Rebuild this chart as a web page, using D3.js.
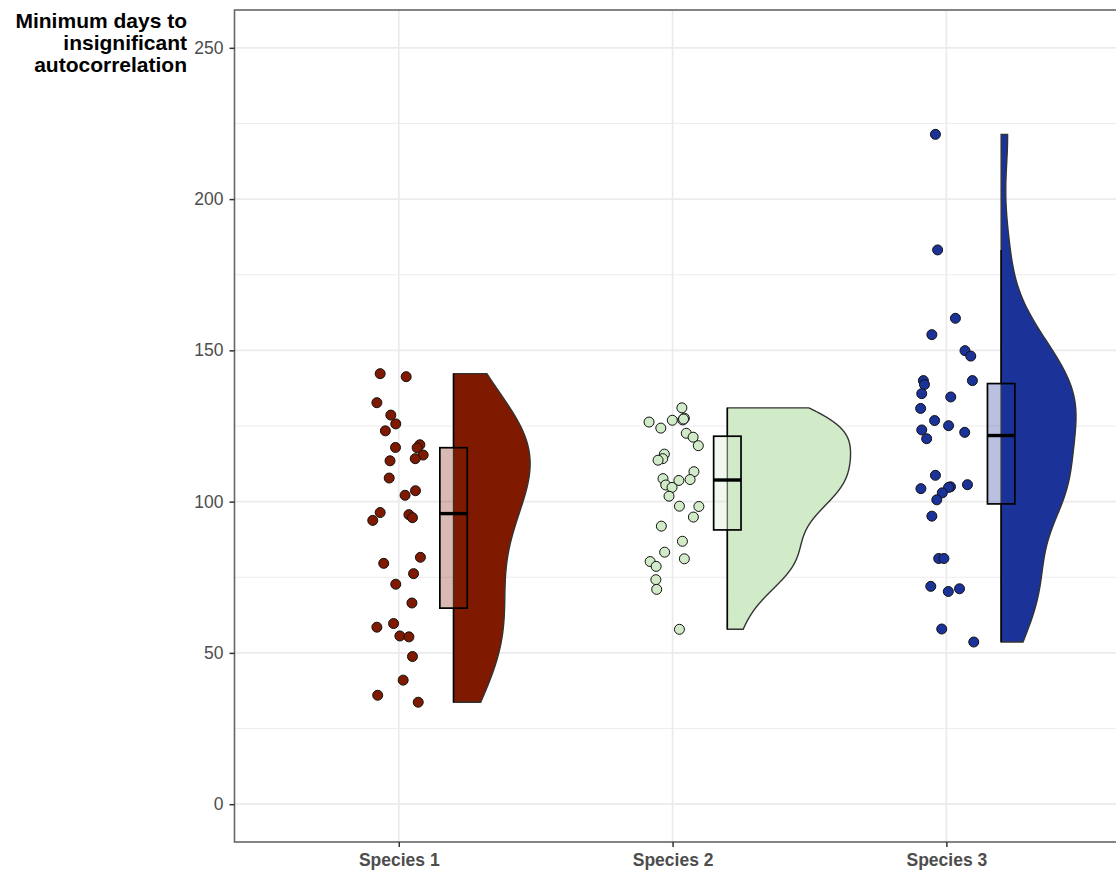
<!DOCTYPE html>
<html>
<head>
<meta charset="utf-8">
<script src="https://cdn.jsdelivr.net/npm/d3@7"></script>
<style>
  html, body { margin: 0; padding: 0; background: #fff; }
  svg text { font-family: "Liberation Sans", Arial, sans-serif; }
</style>
</head>
<body>
<svg id="chart"></svg>
<script>
const species = ["Species 1", "Species 2", "Species 3"];
const speciesFill = ["#7f1a00", "#d1ebc9", "#1b3399"];

// days, one per fish; jitter is the horizontal offset in category units
const species1Days = [142.3, 141.3, 132.7, 128.6, 125.7, 123.4, 117.9, 118.8, 117.8, 113.5, 115.4, 114.2, 107.8, 103.6, 102.1, 96.4,
                      93.8, 95.7, 94.7, 81.6, 79.6, 76.2, 72.7, 66.5, 58.5, 59.7, 55.6, 55.3, 48.8, 41.0, 36.0, 33.7];
const species1Jitter = [-0.068, 0.027, -0.080, -0.029, -0.011, -0.049, -0.012, 0.077, 0.067, -0.032, 0.089, 0.060, -0.035, 0.061, 0.023, -0.068,
                        -0.095, 0.037, 0.050, 0.079, -0.055, 0.054, -0.011, 0.048, -0.080, -0.019, 0.004, 0.037, 0.050, 0.016, -0.077, 0.071];

const species2Days = [131.0, 127.6, 127.0, 126.9, 126.3, 124.3, 122.6, 121.3, 118.5, 115.7, 114.2, 113.7, 109.9, 107.6, 107.0, 107.3,
                      105.5, 104.7, 101.8, 98.5, 98.4, 94.9, 91.9, 86.9, 83.3, 81.1, 80.2, 78.6, 74.2, 71.0, 57.8, 127.3];
const species2Jitter = [0.034, 0.043, 0.037, -0.001, -0.086, -0.043, 0.050, 0.075, 0.094, -0.030, -0.036, -0.053, 0.078, -0.035, 0.023, 0.064,
                        -0.025, -0.002, -0.013, 0.025, 0.096, 0.076, -0.041, 0.036, -0.029, 0.043, -0.082, -0.060, -0.061, -0.058, 0.025, 0.040];

const species3Days = [221.4, 183.2, 160.6, 155.2, 149.9, 148.1, 140.0, 138.7, 140.0, 135.7, 134.6, 130.8, 126.8, 125.1, 123.7, 122.9,
                      120.8, 108.7, 104.3, 104.9, 104.7, 105.6, 102.9, 100.6, 95.2, 81.2, 81.2, 72.0, 70.3, 71.2, 57.9, 53.6];
const species3Jitter = [-0.040, -0.032, 0.033, -0.053, 0.068, 0.089, -0.084, -0.080, 0.095, -0.090, 0.016, -0.094, -0.043, 0.008, -0.090, 0.067,
                        -0.072, -0.040, -0.093, 0.015, 0.008, 0.077, -0.015, -0.035, -0.053, -0.028, -0.009, -0.057, 0.007, 0.048, -0.017, 0.100];

const yTicks = [0, 50, 100, 150, 200, 250];
const yMinorTicks = [25, 75, 125, 175, 225];
const titleLines = ["Minimum days to", "insignificant", "autocorrelation"];

const allDays = [species1Days, species2Days, species3Days];
const allJitter = [species1Jitter, species2Jitter, species3Jitter];

const width = 1116, height = 872;
const panel = { left: 234.5, top: 10, right: 1162, bottom: 842 };

const svg = d3.select("#chart")
  .attr("width", width)
  .attr("height", height)
  .attr("viewBox", [0, 0, width, height]);

// discrete positions 1..3, the way ggplot lays them out (the panel runs past the right edge)
const x = d3.scaleLinear().domain([0.4, 3.7875]).range([panel.left, panel.right]);
const y = d3.scaleLinear().domain([-12.5, 262.5]).range([panel.bottom, panel.top]);

const nudge = 0.2, violinHalf = 0.45, boxWidth = 0.1;

const plot = svg.append("g");

// grid
plot.selectAll(".minor")
  .data(yMinorTicks)
  .join("line")
    .attr("x1", panel.left).attr("x2", width)
    .attr("y1", d => y(d)).attr("y2", d => y(d))
    .attr("stroke", "#ebebeb").attr("stroke-width", 0.9);

plot.selectAll(".major")
  .data(yTicks)
  .join("line")
    .attr("x1", panel.left).attr("x2", width)
    .attr("y1", d => y(d)).attr("y2", d => y(d))
    .attr("stroke", "#ebebeb").attr("stroke-width", 1.7);

plot.selectAll(".vmajor")
  .data(species)
  .join("line")
    .attr("x1", (d, i) => x(i + 1)).attr("x2", (d, i) => x(i + 1))
    .attr("y1", panel.top).attr("y2", panel.bottom)
    .attr("stroke", "#ebebeb").attr("stroke-width", 1.7);

// kernel density like R's density(bw = "nrd0"), trimmed to the data range
function nrd0(v) {
  const sd = d3.deviation(v);
  const iqr = d3.quantile(v, 0.75) - d3.quantile(v, 0.25);
  return 0.9 * Math.min(sd, iqr / 1.34) * Math.pow(v.length, -0.2);
}

function density(v) {
  const bw = nrd0(v);
  const lo = d3.min(v), hi = d3.max(v);
  const n = 512;
  return d3.range(n).map(k => {
    const t = lo + (hi - lo) * k / (n - 1);
    const dens = d3.sum(v, d => Math.exp(-0.5 * ((t - d) / bw) ** 2)) / (v.length * bw * Math.sqrt(2 * Math.PI));
    return { t, dens };
  });
}

const densities = allDays.map(density);
const maxDensity = d3.max(densities, ds => d3.max(ds, d => d.dens));

// flat violins
densities.forEach((ds, i) => {
  const edge = i + 1 + nudge;
  const area = d3.area()
    .x0(x(edge))
    .x1(d => x(edge + violinHalf * d.dens / maxDensity))
    .y(d => y(d.t));
  plot.append("path")
    .datum(ds)
    .attr("d", area)
    .attr("fill", speciesFill[i])
    .attr("stroke", "#333")
    .attr("stroke-width", 1.4);
});

// jittered points
allDays.forEach((days, i) => {
  plot.append("g")
    .selectAll("circle")
    .data(days)
    .join("circle")
      .attr("cx", (d, j) => x(i + 1 + allJitter[i][j]))
      .attr("cy", d => y(d))
      .attr("r", 5)
      .attr("fill", speciesFill[i])
      .attr("stroke", "#111")
      .attr("stroke-width", 1);
});

// boxplots (no outliers drawn)
allDays.forEach((days, i) => {
  const sorted = days.slice().sort(d3.ascending);
  const q1 = d3.quantile(sorted, 0.25);
  const med = d3.quantile(sorted, 0.5);
  const q3 = d3.quantile(sorted, 0.75);
  const iqr = q3 - q1;
  const hiW = d3.max(sorted.filter(d => d <= q3 + 1.5 * iqr));
  const loW = d3.min(sorted.filter(d => d >= q1 - 1.5 * iqr));
  const cx = i + 1 + nudge;
  const g = plot.append("g");

  g.append("line")
    .attr("x1", x(cx)).attr("x2", x(cx))
    .attr("y1", y(q3)).attr("y2", y(hiW))
    .attr("stroke", "#000").attr("stroke-width", 1.5);
  g.append("line")
    .attr("x1", x(cx)).attr("x2", x(cx))
    .attr("y1", y(q1)).attr("y2", y(loW))
    .attr("stroke", "#000").attr("stroke-width", 1.5);

  g.append("rect")
    .attr("x", x(cx - boxWidth / 2))
    .attr("y", y(q3))
    .attr("width", x(cx + boxWidth / 2) - x(cx - boxWidth / 2))
    .attr("height", y(q1) - y(q3))
    .attr("fill", speciesFill[i])
    .attr("fill-opacity", 0.3)
    .attr("stroke", "#000")
    .attr("stroke-width", 1.7);

  g.append("line")
    .attr("x1", x(cx - boxWidth / 2)).attr("x2", x(cx + boxWidth / 2))
    .attr("y1", y(med)).attr("y2", y(med))
    .attr("stroke", "#000").attr("stroke-width", 3.4);
});

// panel border
svg.append("rect")
  .attr("x", panel.left).attr("y", panel.top)
  .attr("width", panel.right - panel.left).attr("height", panel.bottom - panel.top)
  .attr("fill", "none")
  .attr("stroke", "#666").attr("stroke-width", 1.6);

// axes
const yAxis = svg.append("g")
  .attr("transform", `translate(${panel.left},0)`)
  .call(d3.axisLeft(y).tickValues(yTicks).tickSizeOuter(0).tickSize(5).tickPadding(6));
yAxis.select(".domain").remove();
yAxis.selectAll(".tick line").attr("stroke", "#333").attr("stroke-width", 1.5);
yAxis.selectAll(".tick text")
  .attr("fill", "#4d4d4d")
  .style("font-size", "17.5px")
  .style("font-family", "'Liberation Sans', Arial, sans-serif");

const xAxis = svg.append("g")
  .attr("transform", `translate(0,${panel.bottom})`)
  .call(d3.axisBottom(x).tickValues([1, 2, 3]).tickFormat(d => species[d - 1]).tickSize(5).tickPadding(6).tickSizeOuter(0));
xAxis.select(".domain").remove();
xAxis.selectAll(".tick line").attr("stroke", "#333").attr("stroke-width", 1.5);
xAxis.selectAll(".tick text")
  .attr("fill", "#4d4d4d")
  .attr("y", 24)
  .attr("dy", 0)
  .style("font-size", "17.5px")
  .style("font-weight", "bold")
  .style("font-family", "'Liberation Sans', Arial, sans-serif");

// y title, horizontal at top left
svg.append("text")
  .attr("text-anchor", "end")
  .attr("font-weight", "bold")
  .attr("font-size", 21)
  .attr("fill", "#000")
  .selectAll("tspan")
  .data(titleLines)
  .join("tspan")
    .attr("x", 187)
    .attr("y", (d, i) => 28 + i * 22)
    .text(d => d);
</script>
</body>
</html>
